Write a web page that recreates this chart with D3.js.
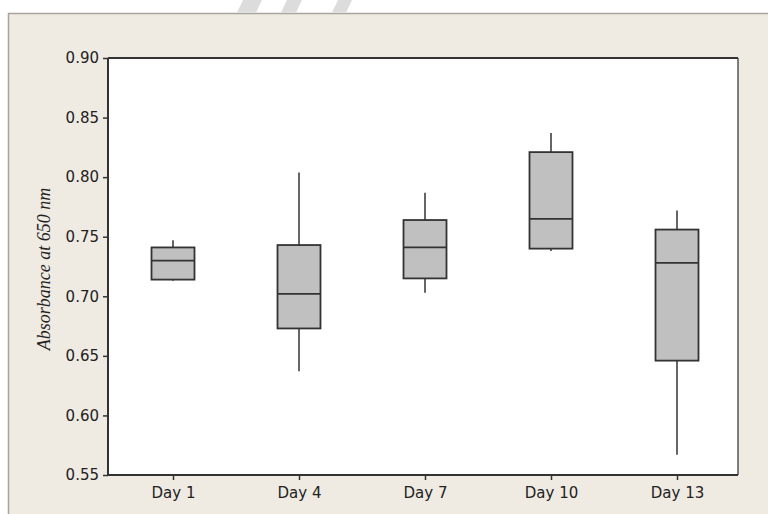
<!DOCTYPE html>
<html>
<head>
<meta charset="utf-8">
<script src="https://cdn.jsdelivr.net/npm/d3@7"></script>
<style>
  html, body { margin: 0; padding: 0; background: #ffffff; }
  svg { display: block; }
</style>
</head>
<body>
<svg id="chart" width="768" height="514"></svg>
<script>
// Absorbance at 650 nm by sampling day (box plot summaries)
const days       = ["Day 1", "Day 4", "Day 7", "Day 10", "Day 13"];
const whiskerLow = [0.713, 0.637, 0.703, 0.738, 0.567];
const q1         = [0.714, 0.673, 0.715, 0.740, 0.646];
const medians    = [0.730, 0.702, 0.741, 0.765, 0.728];
const q3         = [0.741, 0.743, 0.764, 0.821, 0.756];
const whiskerHigh= [0.747, 0.804, 0.787, 0.837, 0.772];
const yTicks     = [0.55, 0.60, 0.65, 0.70, 0.75, 0.80, 0.85, 0.90];

const W = 768, H = 514;
const plot = { left: 108, right: 738, top: 58, bottom: 475 };
const boxWidth = 43;

const svg = d3.select("#chart");

// page background and framed panel
svg.append("rect").attr("x", 0).attr("y", 0).attr("width", W).attr("height", H).attr("fill", "#ffffff");
svg.append("rect").attr("x", 8).attr("y", 13).attr("width", W - 8).attr("height", H - 13)
  .attr("fill", "#efebe2");
svg.append("path").attr("d", `M8.5,${H} V13.5 H${W}`)
  .attr("fill", "none").attr("stroke", "#a8a59e").attr("stroke-width", 1.5);

// faint diagonal strokes above the panel
const wm = svg.append("g").attr("fill", "#dcdcdc");
[[237, 256], [281, 296], [332, 346]].forEach(([a, b]) => {
  wm.append("path").attr("d", `M${a},12.5 L${a + 6},0 L${b + 6},0 L${b},12.5 Z`);
});

// plot area
svg.append("rect")
  .attr("x", plot.left).attr("y", plot.top)
  .attr("width", plot.right - plot.left).attr("height", plot.bottom - plot.top)
  .attr("fill", "#ffffff");

const x = d3.scalePoint().domain(days).range([plot.left + 2, plot.right + 2]).padding(0.5);
const y = d3.scaleLinear().domain([0.55, 0.90]).range([plot.bottom, plot.top]);

const fontSans = "'DejaVu Sans', Verdana, sans-serif";

// y axis
const yAxis = svg.append("g")
  .attr("transform", `translate(${plot.left},0)`)
  .call(d3.axisLeft(y).tickValues(yTicks).tickFormat(d3.format(".2f")).tickSize(5).tickPadding(4));
yAxis.select(".domain").remove();
yAxis.selectAll(".tick line").attr("stroke", "#333").attr("stroke-width", 1.5);
yAxis.selectAll(".tick text").attr("fill", "#222").style("font-family", fontSans).style("font-size", "15px");

// x axis
const xAxis = svg.append("g")
  .attr("transform", `translate(0,${plot.bottom})`)
  .call(d3.axisBottom(x).tickSize(5).tickPadding(7));
xAxis.select(".domain").remove();
xAxis.selectAll(".tick line").attr("stroke", "#333").attr("stroke-width", 1.5);
xAxis.selectAll(".tick text").attr("fill", "#222").style("font-family", fontSans).style("font-size", "15px");

// frame around the plot area
svg.append("path")
  .attr("d", `M${plot.right},${plot.top} V${plot.bottom}`)
  .attr("stroke", "#555").attr("stroke-width", 1.5).attr("fill", "none");
svg.append("path")
  .attr("d", `M${plot.left},${plot.top} H${plot.right}`)
  .attr("stroke", "#333").attr("stroke-width", 2).attr("fill", "none");
svg.append("path")
  .attr("d", `M${plot.left},${plot.top} V${plot.bottom} H${plot.right}`)
  .attr("stroke", "#333").attr("stroke-width", 2).attr("fill", "none");

// boxes
const stats = days.map((d, i) => ({
  day: d, lo: whiskerLow[i], q1: q1[i], med: medians[i], q3: q3[i], hi: whiskerHigh[i]
}));

const g = svg.append("g").selectAll("g").data(stats).join("g")
  .attr("transform", d => `translate(${x(d.day)},0)`);

g.append("line").attr("x1", 0).attr("x2", 0)
  .attr("y1", d => y(d.q3)).attr("y2", d => y(d.hi))
  .attr("stroke", "#333").attr("stroke-width", 1.5);
g.append("line").attr("x1", 0).attr("x2", 0)
  .attr("y1", d => y(d.q1)).attr("y2", d => y(d.lo))
  .attr("stroke", "#333").attr("stroke-width", 1.5);
g.append("rect")
  .attr("x", -boxWidth / 2).attr("width", boxWidth)
  .attr("y", d => y(d.q3)).attr("height", d => y(d.q1) - y(d.q3))
  .attr("fill", "#c0c0c0").attr("stroke", "#333").attr("stroke-width", 1.8);
g.append("line").attr("x1", -boxWidth / 2).attr("x2", boxWidth / 2)
  .attr("y1", d => y(d.med)).attr("y2", d => y(d.med))
  .attr("stroke", "#333").attr("stroke-width", 1.8);

// y axis title
svg.append("text")
  .attr("transform", `translate(50,${(183 + 355) / 2}) rotate(-90)`)
  .attr("text-anchor", "middle")
  .style("font-family", "'Liberation Serif', 'Times New Roman', serif")
  .style("font-style", "italic")
  .style("font-size", "18px")
  .attr("fill", "#222")
  .text("Absorbance at 650 nm");
</script>
</body>
</html>
